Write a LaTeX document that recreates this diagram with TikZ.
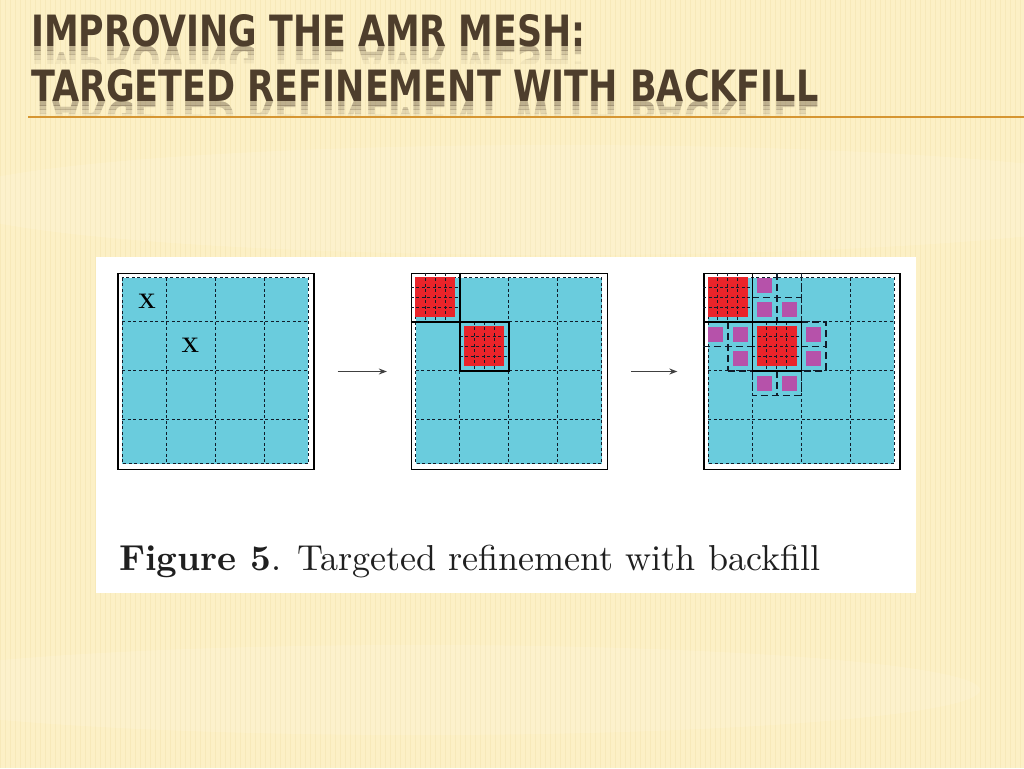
\documentclass[tikz,border=0pt]{standalone}
\usepackage{fontspec}
\usepackage{graphicx}
\newfontfamily\titlefont{DejaVu Sans Condensed}
\usetikzlibrary{arrows.meta}
\definecolor{bgyellow}{RGB}{252,240,198}
\definecolor{stripe}{RGB}{230,210,140}
\definecolor{titlebrown}{RGB}{78,62,44}
\definecolor{ruleorange}{RGB}{214,150,50}
\definecolor{meshcyan}{RGB}{106,204,221}
\definecolor{meshred}{RGB}{234,36,42}
\definecolor{meshmag}{RGB}{182,82,170}
\definecolor{meshline}{RGB}{15,28,42}
\tikzset{
  gridbox/.style={draw=black, line width=1.3pt, minimum size=196pt, inner sep=0pt, fill=white},
  fine/.style={draw=meshline, line width=1.15pt, dash pattern=on 3pt off 2.5pt},
  longdash/.style={draw=meshline, line width=1.3pt, dash pattern=on 7pt off 4pt},
  solidline/.style={draw=black, line width=1.3pt},
  arr/.style={draw=black!75, line width=1.3pt, -{Stealth[length=8pt,width=6pt]}},
  xlabel/.style={inner sep=0pt, font=\fontsize{21}{21}\selectfont\bfseries},
}
\newcommand\meshbase{%
  \fill[meshcyan] (5,5) rectangle (191,191);
  \draw[fine] (5,5) rectangle (191,191);
  \foreach \k in {49,98,147} {\draw[fine] (\k,5) -- (\k,191); \draw[fine] (5,\k) -- (191,\k);}
}
\newcommand\redpatch[2]{%
  \fill[meshred] ({#1+4.5},{#2+4.5}) rectangle ({#1+44.5},{#2+44.5});
  \foreach \s in {14.5,24.5,34.5} {\draw[fine] ({#1+\s},#2) -- ({#1+\s},{#2+49}); \draw[fine] (#1,{#2+\s}) -- ({#1+49},{#2+\s});}
}
\newcommand\quadpatch[2]{\fill[meshmag] ({#1+4.75},{#2+4.75}) rectangle ++(15,15);}
\newcommand\refinedsolids{%
  \draw[solidline] (0,49) -- (49,49) (49,0) -- (49,49);
  \draw[solidline] (49,49) rectangle (98,98);
}
\newcommand\titleline[4]{%
  \node[anchor=base west, inner sep=0pt, text=titlebrown] (#4) at (#1,#2) {\resizebox{#3pt}{32pt}{\titlefont\bfseries #4}};
  \foreach \a/\t in {0/0.36,4/0.24,8/0.14,12/0.06}{%
    \begin{scope}
      \clip ({#1-5},{#2+\a}) rectangle ({#1+#3+5},{#2+\a+4});
      \node[anchor=base west, inner sep=0pt, text=titlebrown, text opacity=\t] at (#1,#2) {\scalebox{1}[-1]{\resizebox{#3pt}{32pt}{\titlefont\bfseries #4}}};
    \end{scope}}
}
\begin{document}
\begin{tikzpicture}[x=1pt,y=-1pt]
\useasboundingbox (0,0) rectangle (1024,768);
% background
\fill[bgyellow] (0,0) rectangle (1024,768);
\foreach \x in {0,5,...,1024} {\draw[stripe, opacity=0.22, line width=0.8pt] (\x,0) -- (\x,768);}
\fill[white, opacity=0.12] (560,200) ellipse (620 and 55);
\fill[white, opacity=0.12] (420,690) ellipse (560 and 45);
% title
\titleline{31}{47}{554}{IMPROVING THE AMR MESH:}
\titleline{31}{101}{787}{TARGETED REFINEMENT WITH BACKFILL}
\draw[ruleorange, line width=1.8pt] (28,117) -- (1024,117);
% white panel
\fill[white] (96,257) rectangle (916,593);
% grids
\node[gridbox] (g1) at (216,371.5) {};
\node[gridbox] (g2) at (509.5,371.5) {};
\node[gridbox] (g3) at (802,371.5) {};
% grid 1
\begin{scope}[shift={(g1.north west)}]
  \meshbase
  \node[xlabel] (x1) at (147.7-118,301.5-273.5) {X};
  \node[xlabel] (x2) at (191-118,346-273.5) {X};
\end{scope}
% grid 2
\begin{scope}[shift={(g2.north west)}]
  \meshbase
  \redpatch{0}{0}
  \redpatch{49}{49}
  \refinedsolids
\end{scope}
% grid 3
\begin{scope}[shift={(g3.north west)}]
  \meshbase
  \redpatch{0}{0}
  \redpatch{49}{49}
  \quadpatch{49}{0}\quadpatch{49}{24.5}\quadpatch{73.5}{24.5}
  \quadpatch{0}{49}\quadpatch{24.5}{49}\quadpatch{24.5}{73.5}
  \quadpatch{98}{49}\quadpatch{98}{73.5}
  \quadpatch{49}{98}\quadpatch{73.5}{98}
  % backfill patch outlines
  \draw[longdash] (73.5,0) -- (73.5,49) (49,24.5) -- (98,24.5) (98,0) -- (98,49);
  \draw[longdash] (0,73.5) -- (49,73.5) (24.5,49) -- (24.5,98) (24.5,98) -- (49,98);
  \draw[longdash] (98,49) -- (122.5,49) -- (122.5,98) -- (98,98) (98,73.5) -- (122.5,73.5);
  \draw[longdash] (49,98) -- (49,122.5) -- (98,122.5) -- (98,98) (73.5,98) -- (73.5,122.5);
  \refinedsolids
\end{scope}
% arrows
\draw[arr] ([xshift=23pt]g1.east) -- ([xshift=-24pt]g2.west);
\draw[arr] ([xshift=23pt]g2.east) -- ([xshift=-26pt]g3.west);
% caption
\node[anchor=base west, inner sep=0pt, text=black!88] (cap) at (119,570) {\resizebox{701pt}{!}{\textbf{Figure 5}. Targeted refinement with backfill}};
\end{tikzpicture}
\end{document}
